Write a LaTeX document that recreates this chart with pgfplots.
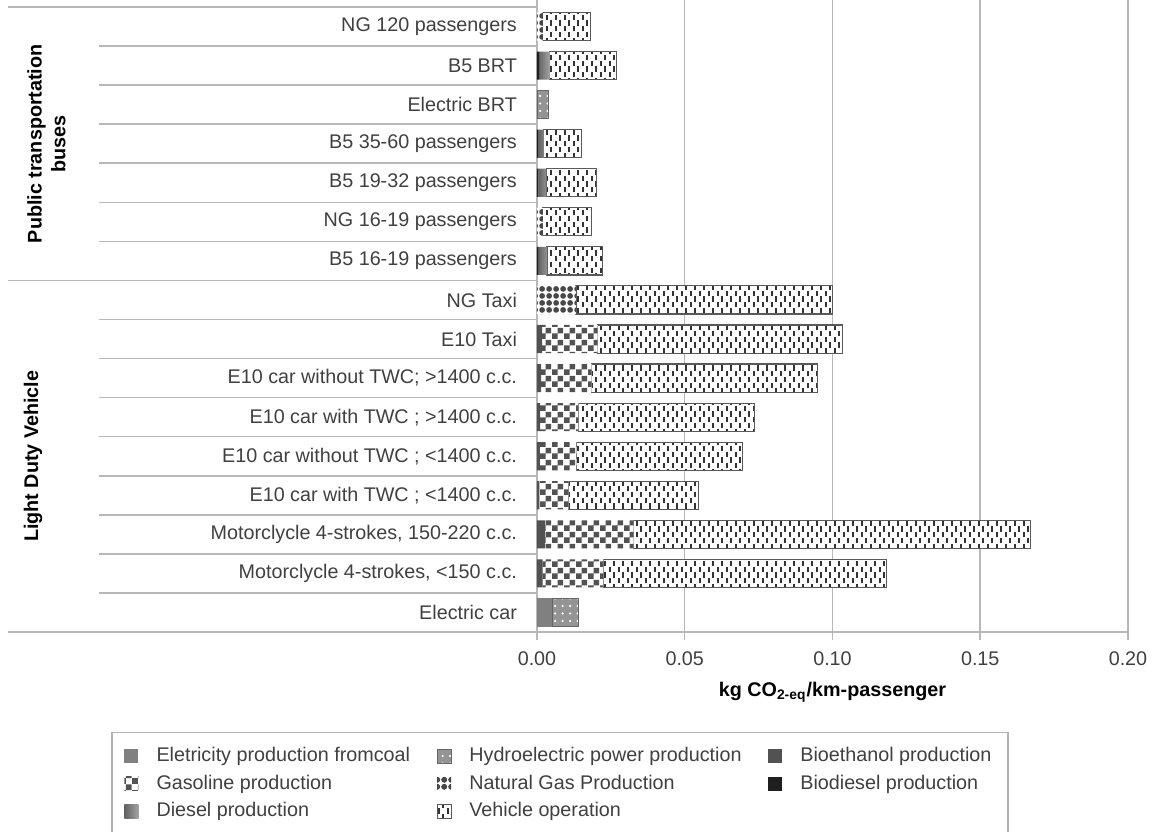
\documentclass[border=0pt]{standalone}
\usepackage{fontspec}
\setmainfont{Liberation Sans}
\usepackage{pgfplots}
\usepackage{pgfplotstable}
\pgfplotsset{compat=1.18}
\usetikzlibrary{patterns}

% checkerboard for gasoline
\pgfdeclarepatternformonly{checker}{\pgfpointorigin}{\pgfpoint{4.8pt}{4.8pt}}{\pgfpoint{4.8pt}{4.8pt}}{
  \pgfpathrectangle{\pgfpointorigin}{\pgfpoint{2.4pt}{2.4pt}}
  \pgfpathrectangle{\pgfpoint{2.4pt}{2.4pt}}{\pgfpoint{2.4pt}{2.4pt}}
  \pgfusepath{fill}}
% staggered short dashes for vehicle operation
\pgfdeclarepatternformonly{vdash}{\pgfpoint{-0.5pt}{-0.5pt}}{\pgfpoint{4.1pt}{5.1pt}}{\pgfpoint{3.6pt}{4.6pt}}{
  \pgfsetlinewidth{0.8pt}
  \pgfpathmoveto{\pgfpoint{0.9pt}{0.1pt}}\pgfpathlineto{\pgfpoint{0.9pt}{2.2pt}}
  \pgfpathmoveto{\pgfpoint{2.7pt}{2.4pt}}\pgfpathlineto{\pgfpoint{2.7pt}{4.5pt}}
  \pgfusepath{stroke}}
% balls for natural gas
\pgfdeclarepatternformonly{ngballs}{\pgfpointorigin}{\pgfpoint{2.8pt}{2.8pt}}{\pgfpoint{2.8pt}{2.8pt}}{
  \pgfpathcircle{\pgfpoint{1.4pt}{1.4pt}}{1.3pt}
  \pgfusepath{fill}}

\tikzset{
  coalS/.style={fill=black!50, draw=none},
  gasS/.style={fill=white, draw=none, postaction={pattern=checker, pattern color=black!68}},
  dieselS/.style={left color=black!62, right color=black!36, draw=none},
  hydroS/.style={fill=black!42, draw=black!60, line width=0.3pt, postaction={pattern=dots, pattern color=white}},
  ngS/.style={fill=white, draw=none, postaction={pattern=ngballs, pattern color=black!72}},
  opS/.style={fill=white, draw=black!65, line width=0.45pt, postaction={pattern=vdash, pattern color=black!80}},
  bioethS/.style={fill=black!68, draw=none},
  biodS/.style={fill=black!88, draw=none},
  sep/.style={draw=black!28, line width=0.6pt},
}

% y: 0 = Electric car (bottom) ... 15 = NG 120 passengers (top)
\pgfplotstableread{
y  bioeth  biodsl  coal    gasol   diesel  hydro   ng      oper
0  0       0       0.0052  0       0       0.0088  0       0
1  0.0019  0       0       0.0206  0       0       0       0.0958
2  0.0027  0       0       0.0300  0       0       0       0.1343
3  0.0008  0       0       0.0098  0       0       0       0.0442
4  0.0010  0       0       0.0124  0       0       0       0.0562
5  0.0011  0       0       0.0129  0       0       0       0.0596
6  0.0014  0       0       0.0171  0       0       0       0.0765
7  0.0017  0       0       0.0188  0       0       0       0.0828
8  0       0       0       0       0       0       0.0132  0.0868
9  0       0.0004  0       0       0.0030  0       0       0.0188
10 0       0       0       0       0       0       0.0020  0.0164
11 0       0.0005  0       0       0.0027  0       0       0.0168
12 0       0.0003  0       0       0.0020  0       0       0.0129
13 0       0       0       0       0       0.0037  0       0
14 0       0.0007  0       0       0.0036  0       0       0.0227
15 0       0       0       0       0       0       0.0020  0.0162
}\emis

\begin{document}
\fontsize{7.9}{9.5}\selectfont
\begin{tikzpicture}
\useasboundingbox (-214.8pt,-79.6pt) rectangle (246pt,252.8pt);
\begin{axis}[
  scale only axis,
  width=236.4pt, height=250pt,
  xbar stacked, bar width=0.72,
  xmin=0, xmax=0.2, ymin=-0.5, ymax=15.5,
  clip=false,
  axis line style={draw=none},
  xtick={0,0.05,0.1,0.15,0.2},
  scaled x ticks=false,
  xticklabel style={text=black!75, yshift=-2pt, /pgf/number format/fixed, /pgf/number format/fixed zerofill,
    /pgf/number format/precision=2, /pgf/number format/assume math mode=true},
  tick align=outside, major tick length=3.2pt,
  xtick style={draw=black!28, line width=0.6pt},
  ytick style={draw=none},
  xmajorgrids, grid style={black!28, line width=0.6pt},
  ytick={0,...,15},
  yticklabels={Electric car, {Motorclycle 4-strokes, <150 c.c.}, {Motorclycle 4-strokes, 150-220 c.c.},
    {E10 car with TWC ; <1400 c.c.}, {E10 car without TWC ; <1400 c.c.}, {E10 car with TWC ; >1400 c.c.},
    {E10 car without TWC; >1400 c.c.}, E10 Taxi, NG Taxi, B5 16-19 passengers, NG 16-19 passengers,
    B5 19-32 passengers, B5 35-60 passengers, Electric BRT, B5 BRT, NG 120 passengers},
  yticklabel style={text=black!75, xshift=-2pt},
  xlabel={\bfseries kg CO\textsubscript{2-eq}/km-passenger},
  xlabel style={at={(axis description cs:0.5,-0.096)}, anchor=center},
  legend columns=3,
  legend cell align=left,
  legend image code/.code={\path[#1] (0pt,-2.8pt) rectangle (5.6pt,2.8pt);
    \node[anchor=west, inner sep=0pt, minimum width=11pt, minimum height=1pt] at (0pt,0pt) {};},
  legend style={at={(axis description cs:-0.7208,-0.1596)}, anchor=north west,
    draw=black!30, line width=0.6pt, inner xsep=5pt, inner ysep=4pt, row sep=0.3pt,
    nodes={inner sep=1.6pt, text height=5.9pt, text depth=1.7pt, text=black!75},
    /tikz/every even column/.append style={column sep=9pt}},
]
\addplot[bioethS, forget plot] table[x=bioeth, y=y] {\emis};
\addplot[biodS, forget plot] table[x=biodsl, y=y] {\emis};
\addplot[coalS, forget plot] table[x=coal, y=y] {\emis};
\addplot[gasS, forget plot] table[x=gasol, y=y] {\emis};
\addplot[dieselS, forget plot] table[x=diesel, y=y] {\emis};
\addplot[hydroS, forget plot] table[x=hydro, y=y] {\emis};
\addplot[ngS, forget plot] table[x=ng, y=y] {\emis};
\addplot[opS, forget plot] table[x=oper, y=y] {\emis};

% legend, row by row
\addlegendimage{coalS}\addlegendentry{Eletricity production fromcoal}
\addlegendimage{hydroS}\addlegendentry{Hydroelectric power production}
\addlegendimage{bioethS}\addlegendentry{Bioethanol production}
\addlegendimage{gasS}\addlegendentry{Gasoline production}
\addlegendimage{ngS}\addlegendentry{Natural Gas Production}
\addlegendimage{biodS}\addlegendentry{Biodiesel production}
\addlegendimage{dieselS}\addlegendentry{Diesel production}
\addlegendimage{opS}\addlegendentry{Vehicle operation}

% category separators and frame
\pgfplotsinvokeforeach{0,...,14}{\draw[sep] (axis cs:0,#1.5) -- ++(-175.2pt,0pt);}
\draw[sep] (axis cs:0,8.5) -- ++(-211.6pt,0pt);
\draw[sep] (axis cs:0,15.5) -- ++(-211.6pt,0pt);
\draw[sep] (axis cs:0.2,-0.5) -- (axis cs:0,-0.5) -- ++(-211.6pt,0pt);
\draw[sep] (axis cs:0,-0.5) -- (axis cs:0,15.5);

% group labels
\node[rotate=90, align=center, font=\bfseries] at ([xshift=-196.2pt]axis cs:0,12) {Public transportation\\buses};
\node[rotate=90, font=\bfseries] at ([xshift=-201.6pt]axis cs:0,4) {Light Duty Vehicle};
\end{axis}
\end{tikzpicture}
\end{document}
